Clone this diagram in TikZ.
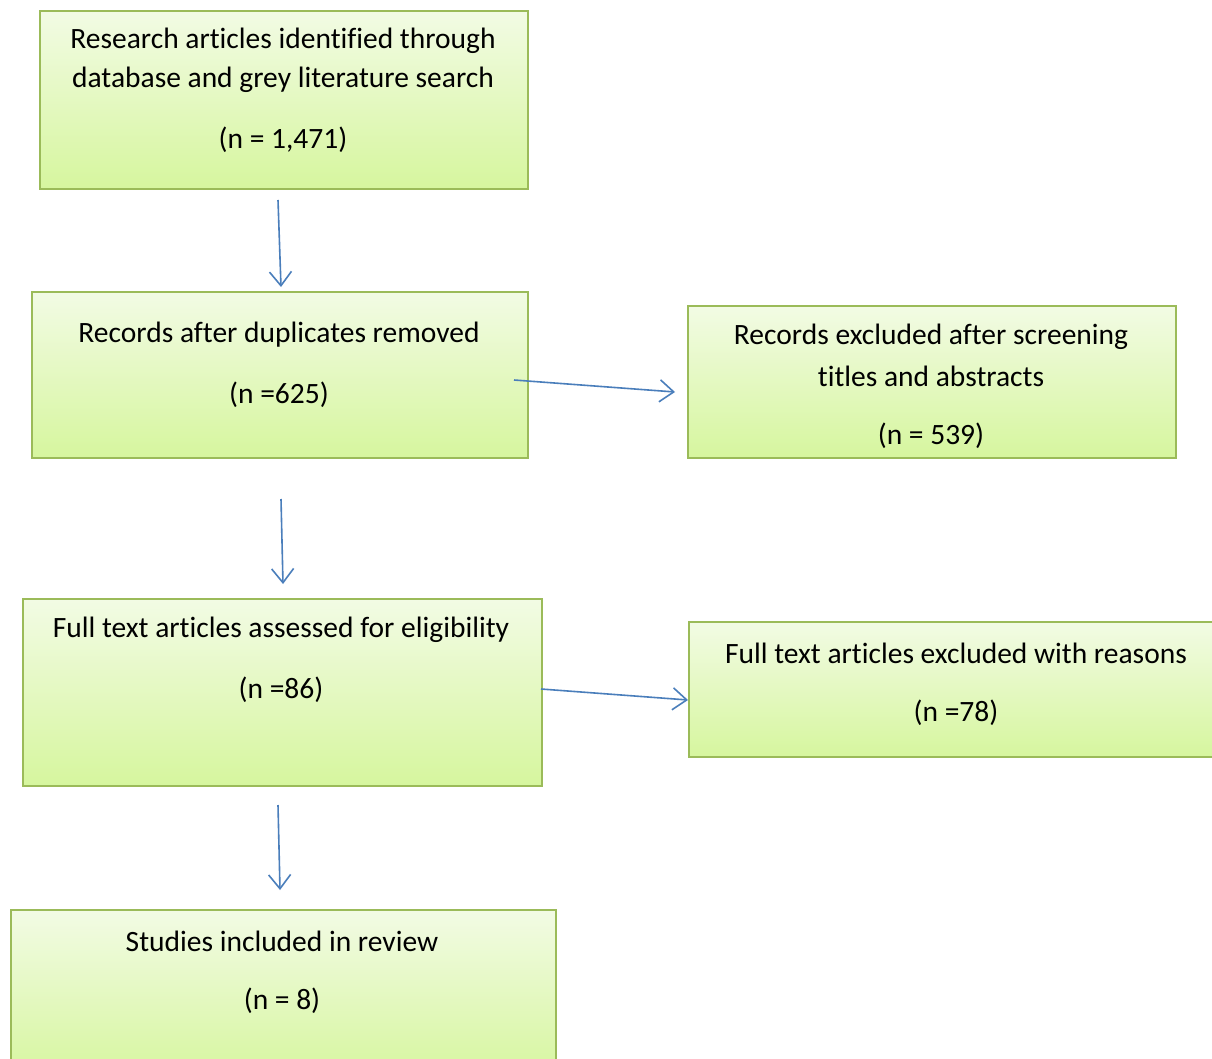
\documentclass[tikz,border=0pt]{standalone}
\usepackage{fontspec}
\setmainfont[Ligatures=CommonOff]{Carlito}
\usetikzlibrary{arrows.meta}
\definecolor{boxborder}{RGB}{155,187,89}
\definecolor{boxtop}{RGB}{242,251,228}
\definecolor{boxbot}{RGB}{214,246,158}
\definecolor{arrowblue}{RGB}{74,126,187}
\tikzset{
  box/.style={draw=boxborder, line width=2pt, top color=boxtop, bottom color=boxbot, anchor=north west, inner sep=0pt},
  txt/.style={font=\fontsize{29.5}{34}\selectfont, text=black, inner sep=0pt},
  arr/.style={draw=arrowblue, line width=1.6pt, -{Straight Barb[length=14pt,width=22pt,line width=1.6pt]}}
}
\begin{document}
\begin{tikzpicture}[x=1pt,y=-1pt]
\useasboundingbox (0,0) rectangle (1212,1059);
\clip (0,0) rectangle (1212,1059);
\fill[white] (0,0) rectangle (1212,1059);
% boxes
\node[box, minimum width=488pt, minimum height=178pt] (b1) at (39,10) {};
\node[box, minimum width=496pt, minimum height=166pt] (b2) at (31,291) {};
\node[box, minimum width=488pt, minimum height=152pt] (b3) at (687,305) {};
\node[box, minimum width=519pt, minimum height=187pt] (b4) at (22,598) {};
\node[box, minimum width=540pt, minimum height=135pt] (b5) at (688,621) {};
\node[box, minimum width=545pt, minimum height=170pt] (b6) at (10,909) {};
% texts
\node[txt] (t1a) at (283,41) {Research articles identified through};
\node[txt] (t1b) at (283,80) {database and grey literature search};
\node[txt] (t1c) at (283,140) {(n = 1,471)};
\node[txt] (t2a) at (279,335) {Records after duplicates removed};
\node[txt] (t2b) at (279,395) {(n =625)};
\node[txt] (t3a) at (931,337) {Records excluded after screening};
\node[txt] (t3b) at (931,376) {titles and abstracts};
\node[txt] (t3c) at (931,436) {(n = 539)};
\node[txt] (t4a) at (281,630) {Full text articles assessed for eligibility};
\node[txt] (t4b) at (281,690) {(n =86)};
\node[txt] (t5a) at (956,653) {Full text articles excluded with reasons};
\node[txt] (t5b) at (956,713) {(n =78)};
\node[txt] (t6a) at (282,941) {Studies included in review};
\node[txt] (t6b) at (282,1001) {(n = 8)};
% arrow end points
\coordinate (a1s) at (278,200);
\coordinate (a1e) at (281,287);
\coordinate (a2s) at (514,380);
\coordinate (a2e) at (675,392);
\coordinate (a3s) at (281,499);
\coordinate (a3e) at (283,584);
\coordinate (a4s) at (541,689);
\coordinate (a4e) at (688,700);
\coordinate (a5s) at (278,805);
\coordinate (a5e) at (280,890);
\draw[arr] (a1s) -- (a1e);
\draw[arr] (a2s) -- (a2e);
\draw[arr] (a3s) -- (a3e);
\draw[arr] (a4s) -- (a4e);
\draw[arr] (a5s) -- (a5e);
\end{tikzpicture}
\end{document}
